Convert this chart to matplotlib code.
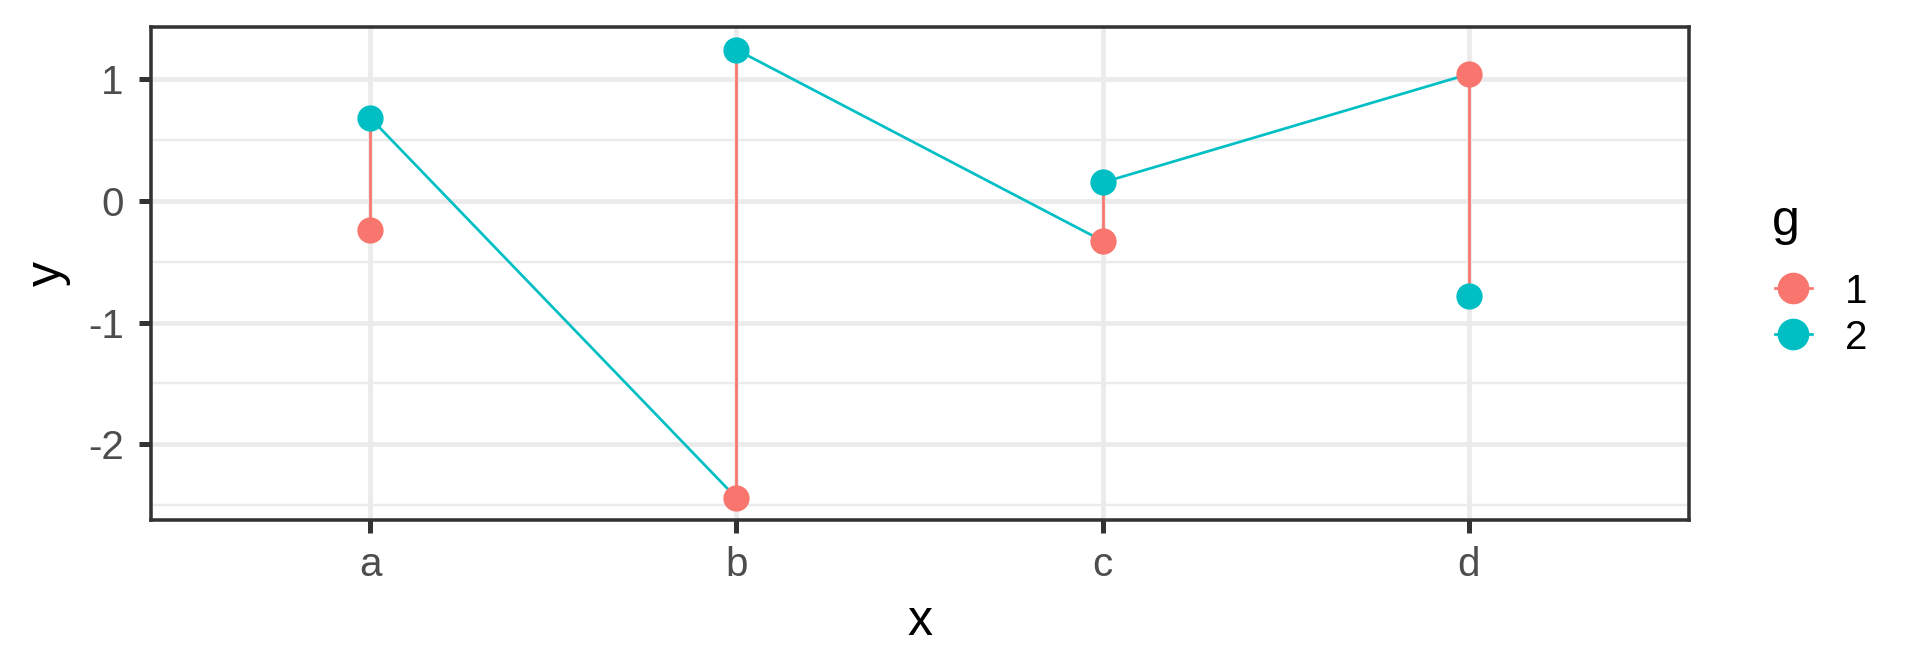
import matplotlib.pyplot as plt
from matplotlib.lines import Line2D
from matplotlib.ticker import MultipleLocator

plt.rcParams['font.family'] = ['Liberation Sans', 'DejaVu Sans']
plt.rcParams['axes.unicode_minus'] = False

# data
categories = ["a", "b", "c", "d"]
y_g1 = [-0.24, -2.44, -0.33, 1.04]
y_g2 = [0.68, 1.24, 0.15, -0.78]
groups = ["1", "2"]
colors = {"1": "#F8766D", "2": "#00BFC4"}

# path visits a1, a2, b1, b2, ... ; each piece takes the colour of its start point
px, py, pg = [], [], []
for i, cat in enumerate(categories):
    px += [i + 1, i + 1]
    py += [y_g1[i], y_g2[i]]
    pg += ["1", "2"]

fig = plt.figure(figsize=(6.4, 2.24), dpi=300)
ax = fig.add_axes([0.0784, 0.2256, 0.8011, 0.7338])

for k in range(len(px) - 1):
    ax.plot(px[k:k + 2], py[k:k + 2], color=colors[pg[k]], lw=0.65,
            solid_capstyle="butt", zorder=3)
for g, ys in zip(groups, [y_g1, y_g2]):
    ax.plot(range(1, len(categories) + 1), ys, "o", ms=6.3, mec="none",
            color=colors[g], zorder=4)

# ggplot-like expansion
lo, hi = min(py), max(py)
pad = (hi - lo) * 0.05
ax.set_ylim(lo - pad, hi + pad)
ax.set_xlim(0.4, len(categories) + 0.6)

ax.set_xticks(range(1, len(categories) + 1))
ax.set_xticklabels(categories)
ax.yaxis.set_major_locator(MultipleLocator(1))
ax.yaxis.set_minor_locator(MultipleLocator(0.5))
ax.set_yticklabels([], minor=True)

ax.grid(which="major", color="#EBEBEB", lw=1.15, zorder=0)
ax.grid(which="minor", axis="y", color="#EBEBEB", lw=0.58, zorder=0)
ax.set_axisbelow(True)
ax.tick_params(which="major", length=3.0, width=1.2, color="#333333",
               labelsize=9.7, labelcolor="#4D4D4D")
ax.tick_params(axis="x", pad=3.2)
ax.tick_params(axis="y", pad=3.4)
ax.tick_params(which="minor", length=0)
for s in ax.spines.values():
    s.set_color("#333333")
    s.set_linewidth(0.85)

ax.set_xlabel("x", fontsize=12, labelpad=3.6)
ax.set_ylabel("y", fontsize=12, labelpad=4.0)

# legend drawn by hand, ggplot style
fig.text(0.923, 0.650, "g", fontsize=12, va="baseline", ha="left")
key_y = [0.5714, 0.503]
for g, ky in zip(groups, key_y):
    fig.add_artist(Line2D([0.9245, 0.9435], [ky, ky], transform=fig.transFigure,
                          color=colors[g], lw=0.65))
    fig.add_artist(Line2D([0.934], [ky], transform=fig.transFigure,
                          color=colors[g], marker="o", ms=7.6, mec="none"))
    fig.text(0.961, ky, g, fontsize=9.7, va="center_baseline", ha="left")

fig.savefig("out.png", dpi=300)
